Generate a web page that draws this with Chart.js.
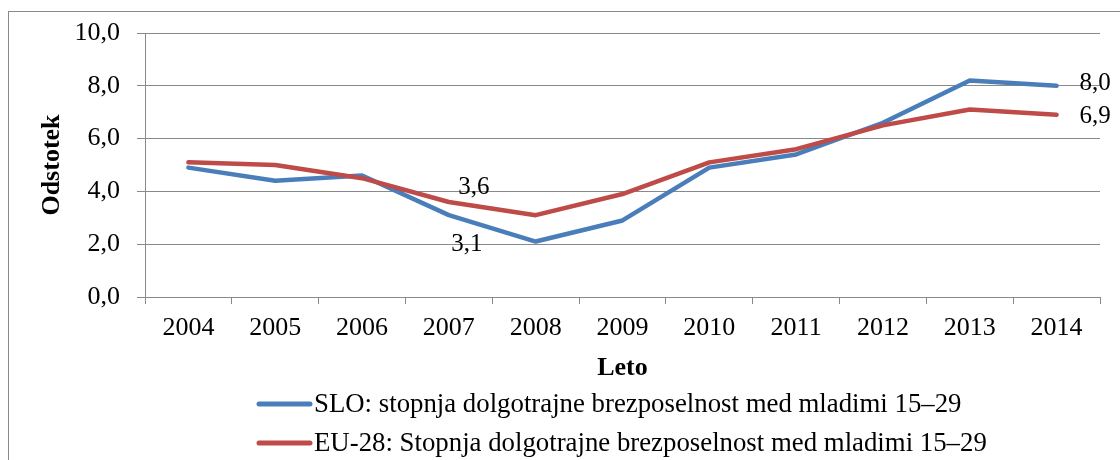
<!DOCTYPE html>
<html>
<head>
<meta charset="utf-8">
<script src="https://cdn.jsdelivr.net/npm/chart.js@4"></script>
<style>
  html, body { margin: 0; padding: 0; background: #fff; }
  canvas { display: block; }
</style>
</head>
<body>
<canvas id="chart" width="1120" height="460"></canvas>
<script>
// data
const years = ['2004', '2005', '2006', '2007', '2008', '2009', '2010', '2011', '2012', '2013', '2014'];
const sloValues = [4.9, 4.4, 4.6, 3.1, 2.1, 2.9, 4.9, 5.4, 6.6, 8.2, 8.0];
const euValues = [5.1, 5.0, 4.5, 3.6, 3.1, 3.9, 5.1, 5.6, 6.5, 7.1, 6.9];
const sloLabel = 'SLO: stopnja dolgotrajne brezposelnost med mladimi 15\u201329';
const euLabel = 'EU-28: Stopnja dolgotrajne brezposelnost med mladimi 15\u201329';

const FONT = "'Liberation Serif', 'Times New Roman', serif";
const GRID = '#898989';
const fmt = v => v.toFixed(1).replace('.', ',');

// which points get a value label, and where it sits relative to the point
const pointLabels = [
  { ds: 1, i: 3, dx: 25, dy: -15, align: 'center' },
  { ds: 0, i: 3, dx: 18, dy: 29, align: 'center' },
  { ds: 0, i: 10, dx: 23, dy: -2, align: 'left' },
  { ds: 1, i: 10, dx: 23, dy: 2, align: 'left' }
];

const framePlugin = {
  id: 'frame',
  beforeDraw(chart) {
    const c = chart.ctx;
    c.save();
    c.fillStyle = '#fff';
    c.fillRect(0, 0, chart.width, chart.height);
    c.strokeStyle = '#8a8a8a';
    c.lineWidth = 1;
    c.strokeRect(8.5, 11.5, chart.width + 20, chart.height + 20);
    c.restore();
  }
};

const valueLabels = {
  id: 'valueLabels',
  afterDatasetsDraw(chart) {
    const c = chart.ctx;
    c.save();
    c.font = '25px ' + FONT;
    c.fillStyle = '#000';
    c.textBaseline = 'middle';
    pointLabels.forEach(p => {
      const el = chart.getDatasetMeta(p.ds).data[p.i];
      const v = chart.data.datasets[p.ds].data[p.i];
      c.textAlign = p.align;
      c.fillText(fmt(v), el.x + p.dx, el.y + p.dy);
    });
    c.restore();
  }
};

// legend drawn as a left-aligned column like the original
const sideLegend = {
  id: 'sideLegend',
  afterDraw(chart) {
    const c = chart.ctx;
    c.save();
    c.font = '26.8px ' + FONT;
    c.textBaseline = 'middle';
    c.textAlign = 'left';
    c.lineCap = 'round';
    c.lineWidth = 5;
    const rows = [404, 443];
    chart.data.datasets.forEach((ds, k) => {
      const y = rows[k];
      c.strokeStyle = ds.borderColor;
      c.beginPath();
      c.moveTo(259, y);
      c.lineTo(310, y);
      c.stroke();
      c.fillStyle = '#000';
      c.fillText(ds.label, 314, y + 1);
    });
    c.restore();
  }
};

new Chart(document.getElementById('chart').getContext('2d'), {
  type: 'line',
  data: {
    labels: years,
    datasets: [{
      label: sloLabel,
      data: sloValues,
      borderColor: '#4a7ebb',
      backgroundColor: '#4a7ebb',
      borderWidth: 4.5,
      borderCapStyle: 'round',
      borderJoinStyle: 'round',
      pointRadius: 0,
      tension: 0,
      order: 1
    }, {
      label: euLabel,
      data: euValues,
      borderColor: '#be4b48',
      backgroundColor: '#be4b48',
      borderWidth: 4.5,
      borderCapStyle: 'round',
      borderJoinStyle: 'round',
      pointRadius: 0,
      tension: 0,
      order: 0
    }]
  },
  options: {
    responsive: false,
    animation: false,
    layout: { padding: { left: 33, top: 33, right: 20, bottom: 72 } },
    plugins: {
      legend: { display: false },
      tooltip: { enabled: false }
    },
    scales: {
      x: {
        offset: true,
        grid: { offset: true, drawOnChartArea: false, drawTicks: true, tickLength: 7, color: GRID },
        border: { color: GRID },
        ticks: { color: '#000', font: { family: FONT, size: 26 }, padding: 9, maxRotation: 0 },
        title: { display: true, text: 'Leto', color: '#000', font: { family: FONT, size: 26, weight: 'bold' }, padding: { top: 0, bottom: 4 } },
        afterFit(s) { s.height = 91; }
      },
      y: {
        min: 0,
        max: 10,
        ticks: { stepSize: 2, color: '#000', font: { family: FONT, size: 26 }, padding: 17, callback: v => fmt(v) },
        grid: { color: GRID, tickLength: 8 },
        border: { color: GRID },
        title: { display: true, text: 'Odstotek', color: '#000', font: { family: FONT, size: 26, weight: 'bold' }, padding: { top: 4, bottom: 0 } },
        afterFit(s) { s.width = 112; }
      }
    }
  },
  plugins: [framePlugin, valueLabels, sideLegend]
});
</script>
</body>
</html>
